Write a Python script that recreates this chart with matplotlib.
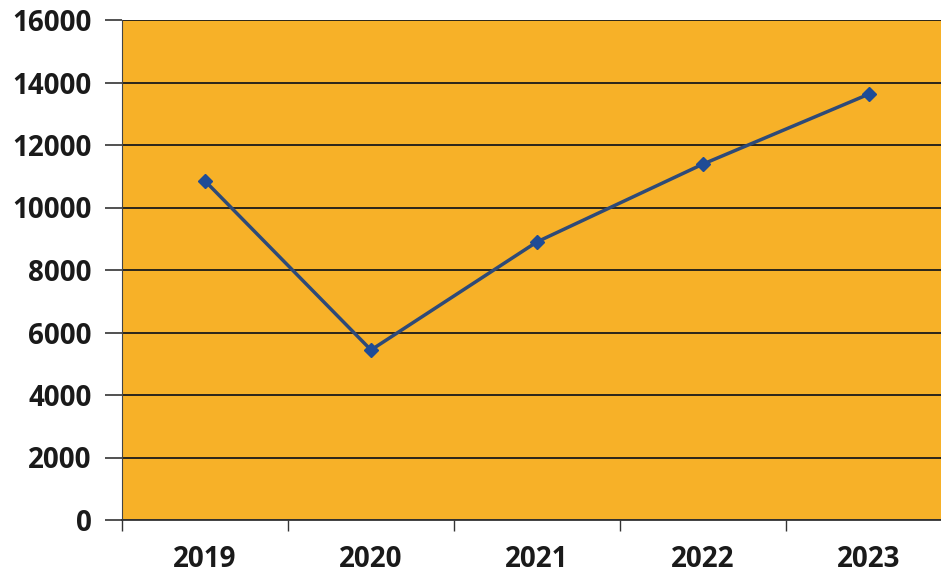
import numpy as np
import matplotlib.pyplot as plt

years = ["2019", "2020", "2021", "2022", "2023"]
values = [10850, 5440, 8900, 11390, 13630]
y_ticks = [0, 2000, 4000, 6000, 8000, 10000, 12000, 14000, 16000]

plt.rcParams['font.family'] = ['Open Sans', 'DejaVu Sans']

fig = plt.figure(figsize=(9.41, 5.76), dpi=100)
# plot area runs a little past the right edge of the figure
ax = fig.add_axes([122 / 941, 56 / 576, 830 / 941, 500 / 576])
ax.set_facecolor('#F7B128')

x = np.arange(1, len(years) + 1)
ax.plot(x, values, color='#2E4A78', linewidth=2.5, marker='D',
        markersize=7, markerfacecolor='#1F4C96', markeredgecolor='#1F4C96', zorder=3)

ax.set_xlim(0.5, len(years) + 0.5)
ax.set_ylim(0, 16000)
ax.set_yticks(y_ticks)
ax.set_yticklabels([str(v) for v in y_ticks])
ax.yaxis.grid(True, color='#1a1a1a', linewidth=1.3)
ax.set_axisbelow(True)

# labels at category centres, tick marks between categories
ax.set_xticks(x)
ax.set_xticklabels(years)
ax.set_xticks(np.arange(0.5, len(years) + 1), minor=True)
ax.tick_params(axis='x', which='major', length=0, pad=18)
ax.tick_params(axis='x', which='minor', length=8, width=1, color='#333333')
ax.tick_params(axis='y', length=12, width=1.2, color='#333333', pad=10)

for lbl in ax.get_xticklabels() + ax.get_yticklabels():
    lbl.set_fontsize(20)
    lbl.set_fontweight('bold')
    lbl.set_color('#1a1a1a')

for side in ['top', 'right']:
    ax.spines[side].set_visible(False)
ax.spines['left'].set_color('#444444')
ax.spines['bottom'].set_color('#333333')
ax.spines['bottom'].set_linewidth(1.3)

fig.savefig('out.png', dpi=100)
